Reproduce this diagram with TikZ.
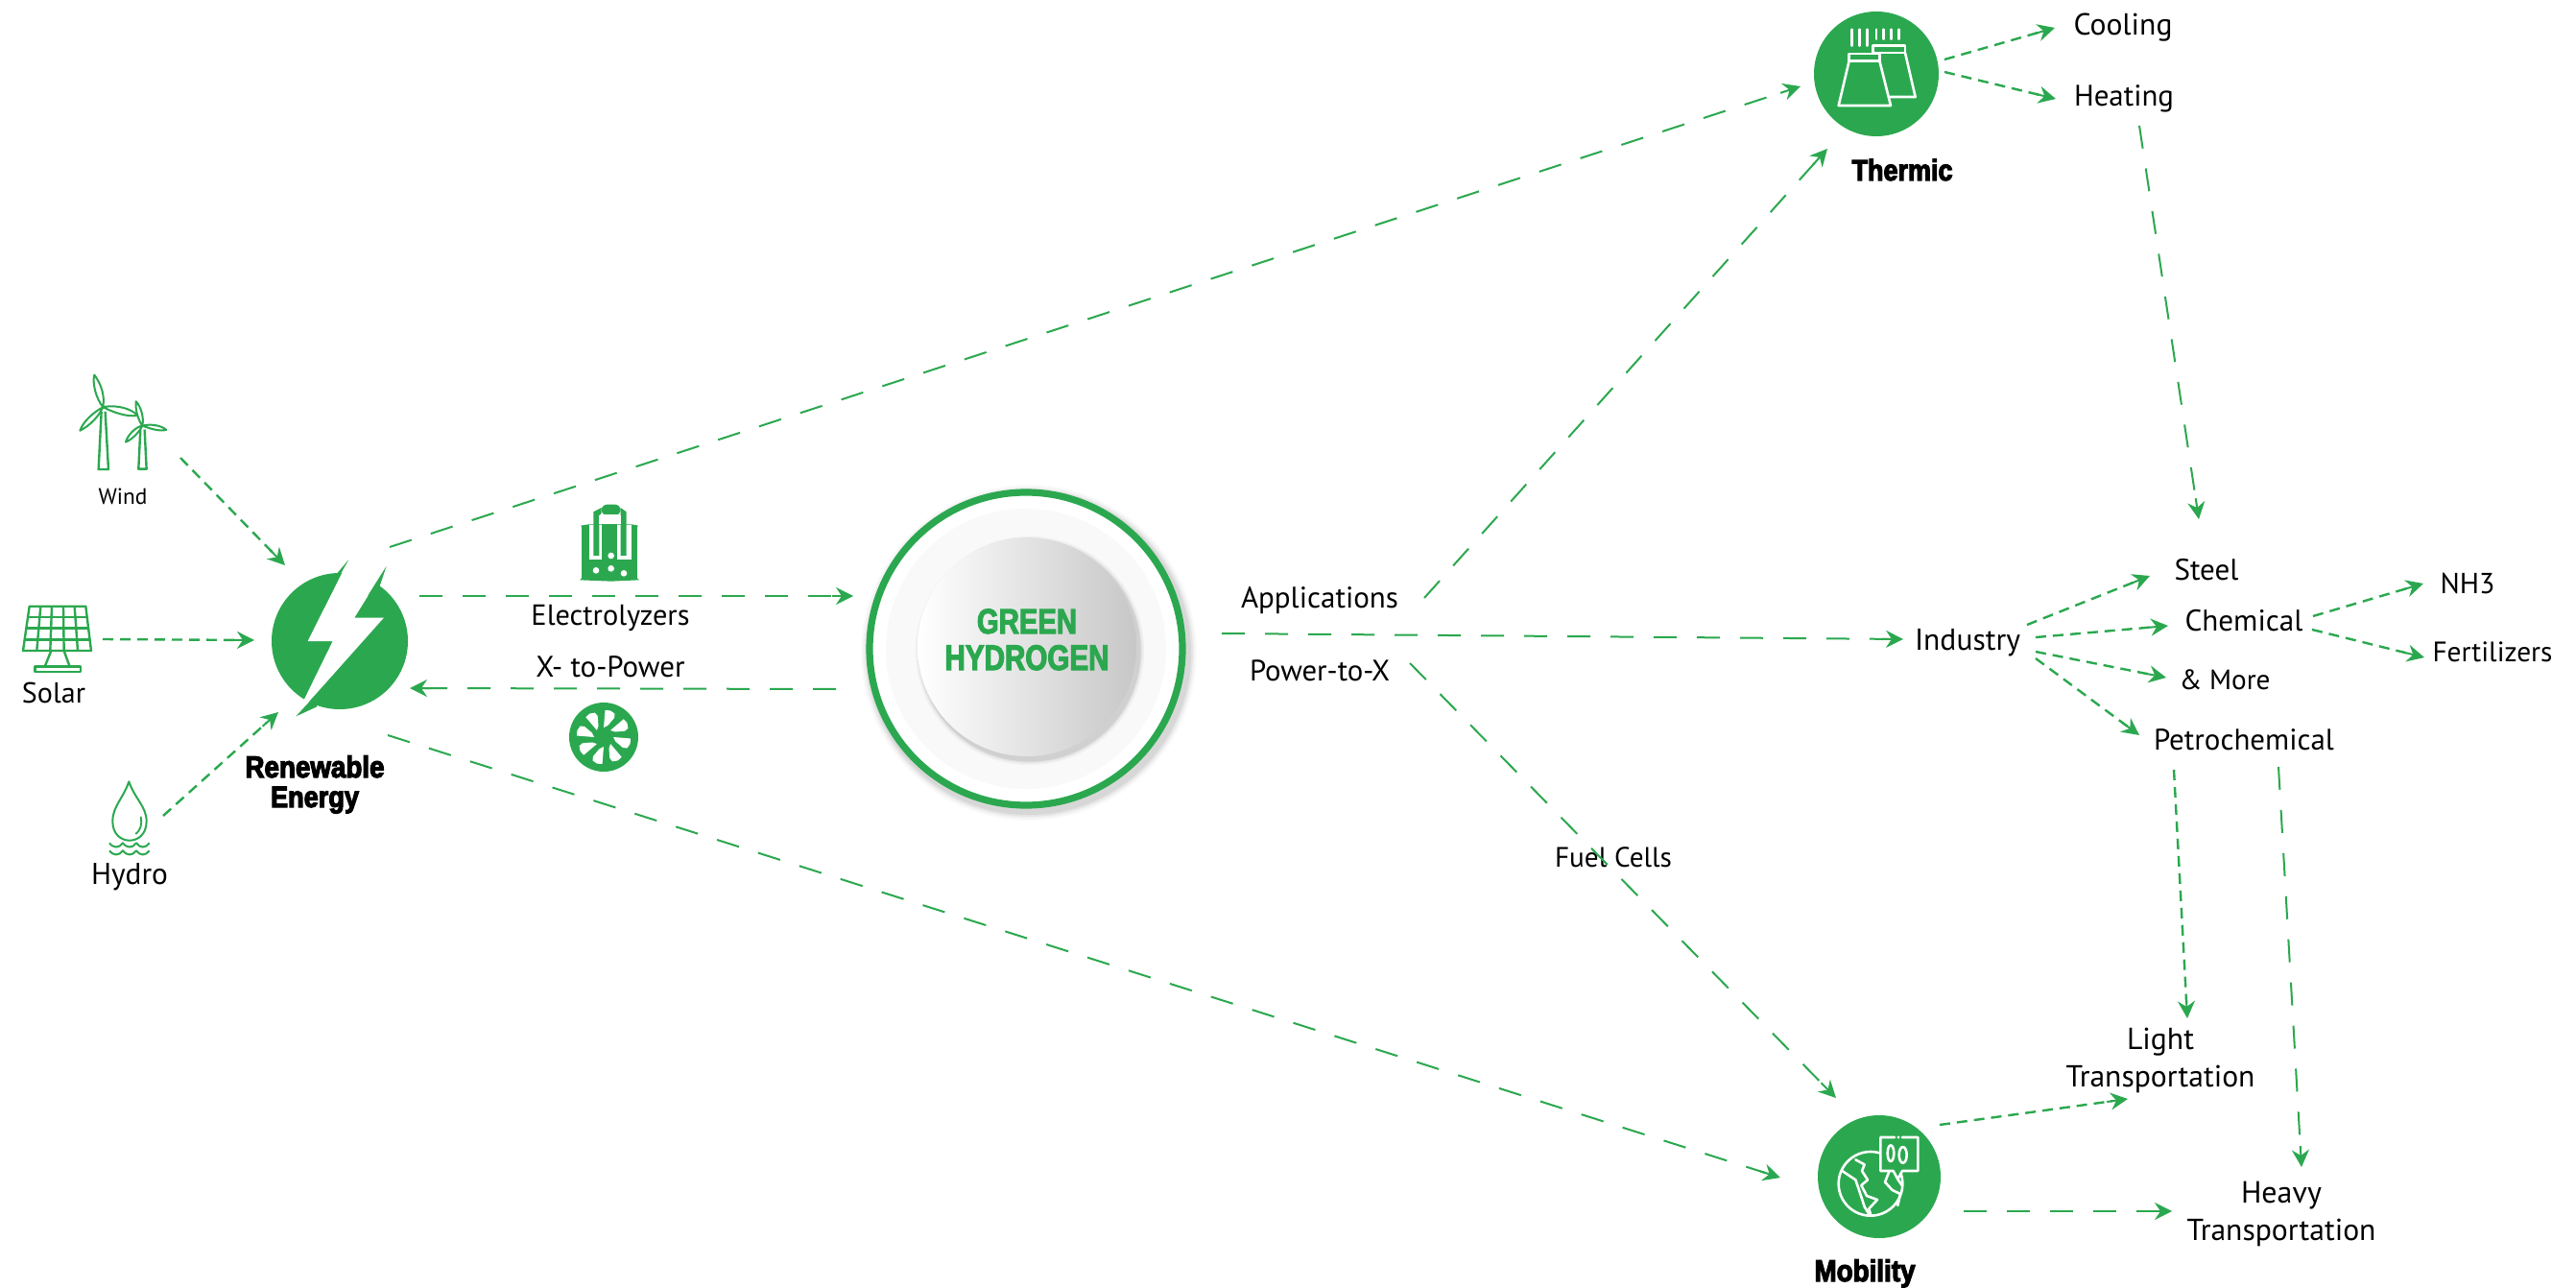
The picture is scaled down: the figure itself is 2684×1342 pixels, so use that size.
\documentclass[tikz,border=0pt]{standalone}
\usepackage{graphicx}
\usepackage{fontspec}
\usetikzlibrary{arrows.meta,calc}
\setmainfont{PT Sans}
\newfontfamily\impactfont[FakeStretch=0.88,FakeBold=3.6]{Liberation Sans Bold}
\newfontfamily\greenfont[FakeStretch=0.80,FakeBold=3]{Liberation Sans Bold}
\definecolor{hgreen}{HTML}{2BA84F}
\newcommand\fw[2]{\resizebox{\dimexpr #1pt/2\relax}{!}{#2}}
\newcommand\conn[3]{%
  \draw[#1] (#2) -- ($(#3)!8pt!(#2)$);
  \draw[stub] ($(#3)!11pt!(#2)$) -- (#3);}
\tikzset{
  x=0.5pt,y=-0.5pt,
  longline/.style={draw=hgreen,line width=1pt,dash pattern=on 12pt off 10.5pt},
  shortline/.style={draw=hgreen,line width=1.2pt,dash pattern=on 5.5pt off 3.5pt},
  stub/.style={draw=hgreen,line width=1pt,-{Stealth[length=9pt,width=9pt,inset=3pt]}},
  lab/.style={anchor=base,inner sep=0pt,text=black},
  hub/.style={circle,fill=hgreen,inner sep=0pt},
  icon/.style={draw=hgreen,line width=1.2pt,line join=round},
  wicon/.style={draw=white,line width=1.3pt,line join=round,line cap=round},
}
\begin{document}
\begin{tikzpicture}
\useasboundingbox[fill=white] (0,0) rectangle (2684,1342);

%% ---------- hubs
\node[hub,minimum size=71pt] (renew) at (354,668) {};
\node[hub,minimum size=65pt] (thermic) at (1955,77) {};
\node[hub,minimum size=64pt] (mobility) at (1958,1226) {};

%% ---------- green hydrogen disc
\foreach \r/\o in {175/.02,173/.03,171/.05,169/.06}
  \fill[black,opacity=\o] (1072,680) circle (\r);
\node[circle,draw=hgreen,line width=3.6pt,fill=white,minimum size=163pt,inner sep=0pt] (hydrogen) at (1069,676) {};
\fill[black!2.5] (1069,676) circle (146);
\foreach \r/\o in {119/.04,117/.05,115.5/.08}
  \fill[black,opacity=\o] (1073,678) circle (\r);
\shade[left color=white,middle color=white,right color=black!22] (1070,674) circle (114);
\node[lab,text=hgreen] (greenw) at (1070,660) {\fw{104}{\greenfont GREEN}};
\node[lab,text=hgreen] (hydrow) at (1070,698) {\fw{171}{\greenfont HYDROGEN}};

%% ---------- bolt (coordinates of a 3 x 2.53 magnified view)
\begin{scope}[shift={(0,340)},xscale=.3333,yscale=.3953]
  \fill[white] (1090,615) -- (962,830) -- (1040,830) -- (950,985) -- (925,1028)
    -- (1200,768) -- (1108,768) -- (1208,632) -- cycle;
  \fill[hgreen] (1055,650) -- (1090,615) -- (1040,690) -- cycle;
  \fill[hgreen] (1185,690) -- (1208,632) -- (1150,710) -- (1230,720) -- cycle;
  \fill[hgreen] (925,1028) -- (1000,960) -- (990,1003) -- cycle;
  %% wind
  \foreach \a/\b/\c/\d/\e/\f/\g/\h/\i/\j/\k/\l in {
    322/213/330/170/305/140/295/128/288/150/300/190,
    322/213/370/205/415/220/430/235/395/240/350/225,
    322/213/310/235/285/260/250/275/260/250/295/225,
    445/262/452/235/435/205/425/198/422/225/435/250,
    445/262/480/255/510/265/520/273/495/278/465/268,
    445/262/435/280/410/300/393/305/400/285/425/265}
    \draw[icon,line width=1pt] (\a,\b) .. controls (\c,\d) and (\e,\f) .. (\g,\h) .. controls (\i,\j) and (\k,\l) .. cycle;
  \draw[icon] (317,225) -- (308,377) -- (339,377) -- (329,225);
  \draw[icon] (439,272) -- (433,376) -- (458,376) -- (452,272);
  %% solar
  \draw[icon] (92,738) -- (268,738) -- (285,855) -- (72,855) -- cycle;
  \foreach \p/\q in {127/115,162/157,198/200,233/243} \draw[icon] (\p,738) -- (\q,855);
  \draw[icon] (87,767) -- (272,767) (82,796) -- (276,796) (77,826) -- (281,826);
  \draw[icon] (160,855) -- (140,897) (200,855) -- (218,897);
  \draw[icon] (110,897) rectangle (252,910);
  %% hydro
  \draw[icon,line width=1pt] (403,1200) .. controls (385,1245) and (352,1265) .. (352,1305)
    .. controls (352,1372) and (458,1372) .. (458,1305)
    .. controls (458,1265) and (421,1245) .. (403,1200) -- cycle;
  \draw[icon,line width=.9pt] (440,1292) .. controls (445,1315) and (438,1330) .. (424,1338);
  \foreach \w in {1362,1382}
    \draw[icon,line width=1pt] (342,\w) .. controls (355,\w+14) and (372,\w+14) .. (384,\w)
      .. controls (397,\w+14) and (414,\w+14) .. (426,\w)
      .. controls (438,\w+14) and (455,\w+14) .. (467,\w);
\end{scope}

%% ---------- electrolyzer icon
\begin{scope}[shift={(590,515)},scale=.3333]
  \fill[hgreen] (45,98) -- (70,94) -- (205,94) -- (225,98) -- (222,102) -- (222,262) -- (228,268) -- (140,272) -- (42,268) -- (48,262) -- (48,102) -- cycle;
  \fill[white] (72,96) -- (72,205) -- (112,205) -- (112,96) -- cycle;
  \fill[white] (160,96) -- (160,205) -- (205,205) -- (205,96) -- cycle;
  \fill[hgreen] (85,192) -- (85,55) -- (110,42) -- (110,60) -- (103,66) -- (103,192) -- cycle;
  \fill[hgreen] (188,192) -- (188,55) -- (170,42) -- (170,60) -- (170,66) -- (170,192) -- cycle;
  \fill[white] (103,66) rectangle (170,94);
  \fill[hgreen] (112,94) rectangle (160,120);
  \fill[hgreen,rounded corners=3pt] (110,32) rectangle (170,66);
  \fill[white] (116,62) rectangle (165,66);
  \foreach \u/\v in {140/192,93/238,140/232,180/247} \fill[white] (\u,\v) circle (10);
\end{scope}

%% ---------- fan icon
\node[hub,minimum size=36pt] (fan) at (629,768) {};
\begin{scope}[shift={(629,768)}]
  \foreach \t in {0,45,...,315}
    \fill[white] (\t:10) -- (\t+3:28) -- (\t+14:28.5) -- (\t+25:27) -- (\t+29:23) -- (\t+20:13) -- cycle;
  \fill[hgreen] (0,0) circle (6.5);
\end{scope}

%% ---------- thermic icon
\begin{scope}[shift={(1850,0)},scale=.3333]
  \draw[wicon] (325,143) -- (305,143) -- (305,165) -- (405,165) -- (405,143) -- cycle;
  \draw[wicon] (405,165) -- (437,303) -- (358,303);
  \draw[wicon] (230,168) rectangle (325,190);
  \draw[wicon] (230,190) -- (197,330) -- (360,330) -- (325,190);
  \foreach \s in {238,262,287} \draw[wicon] (\s,92) -- (\s,143);
  \foreach \s in {315,338,362,385} \draw[wicon] (\s,92) -- (\s,122);
\end{scope}

%% ---------- mobility icon
\begin{scope}[shift={(1900,1170)},scale=.3333]
  \draw[wicon] (147,190) circle (100);
  \fill[hgreen] (178,40) rectangle (300,155);
  \draw[wicon] (222,45) -- (178,45) -- (178,150) -- (218,150) -- (232,176) -- (246,150) -- (295,150) -- (295,45) -- (246,45);
  \fill[white] (234,45) circle (5);
  \draw[wicon] (210,95) ellipse (10 and 25);
  \draw[wicon] (248,100) ellipse (12 and 25);
  \draw[wicon] (100,115) -- (128,130) -- (120,150) -- (138,178) -- (118,195) -- (135,228) -- (168,240) -- (142,268) -- (148,290);
  \draw[wicon] (58,150) -- (100,178) -- (115,222) -- (128,262) -- (145,290);
  \draw[wicon] (205,152) -- (192,185) -- (215,210) -- (240,222) -- (232,258);
  \draw[wicon] (232,176) -- (245,195);
\end{scope}

%% ---------- labels
\node[lab] (wind) at (128,526) {\fw{51}{Wind}};
\node[lab] (solar) at (56,732) {\fw{66}{Solar}};
\node[lab] (hydro) at (135,921) {\fw{80}{Hydro}};
\node[lab] (renewA) at (328,810) {\fw{145}{\impactfont Renewable}};
\node[lab] (renewB) at (328,841) {\fw{92}{\impactfont Energy}};
\node[lab] (electro) at (636,651) {\fw{165}{Electrolyzers}};
\node[lab] (xpower) at (636,705) {\fw{155}{X- to-Power}};
\node[lab] (applic) at (1375,633) {\fw{164}{Applications}};
\node[lab] (ptox) at (1375,709) {\fw{146}{Power-to-X}};
\node[lab] (fuel) at (1681,903) {\fw{122}{Fuel Cells}};
\node[lab] (industry) at (2050,677) {\fw{110}{Industry}};
\node[lab] (steel) at (2299,604) {\fw{67}{Steel}};
\node[lab] (chemical) at (2338,657) {\fw{123}{Chemical}};
\node[lab] (more) at (2318,718) {\fw{95}{\& More}};
\node[lab] (petro) at (2338,781) {\fw{188}{Petrochemical}};
\node[lab] (nh) at (2571,618) {\fw{57}{NH3}};
\node[lab] (fert) at (2597,689) {\fw{125}{Fertilizers}};
\node[lab] (cooling) at (2212,37) {\fw{103}{Cooling}};
\node[lab] (heating) at (2213,111) {\fw{104}{Heating}};
\node[lab] (thermlab) at (1982,188) {\fw{105}{\impactfont Thermic}};
\node[lab] (lightA) at (2251,1093) {\fw{70}{Light}};
\node[lab] (lightB) at (2251,1132) {\fw{197}{Transportation}};
\node[lab] (heavyA) at (2377,1253) {\fw{84}{Heavy}};
\node[lab] (heavyB) at (2377,1292) {\fw{197}{Transportation}};
\node[lab] (moblab) at (1943,1335) {\fw{105}{\impactfont Mobility}};

%% ---------- connector ends
\foreach \n/\X/\Y in {
  windO/188/477, windI/297/589, solarO/107/666, solarI/265/667, hydroO/170/850, hydroI/290/742,
  reTh/406/570, thRe/1876/90, reH/437/621, hRe/889/621, hOut/871/718, hIn/427/717,
  reMo/404/766, moRe/1855/1227, hInd/1273/660, indH/1983/666,
  apO/1484/623, apI/1904/155, ptO/1469/691, ptI/1913/1144,
  thC/2026/62, coI/2141/29, thH/2026/75, heI/2142/103,
  heO/2229/131, stT/2291/541,
  inS/2112/651, stI/2240/600, inC/2121/664, chI/2259/652, inM/2121/679, moI/2257/706, inP/2121/686, peI/2229/766,
  chN/2410/642, nhI/2525/608, chF/2409/656, feI/2526/685,
  peL/2265/802, liI/2279/1061, peH/2374/799, hvI/2398/1216,
  moL/2021/1172, liM/2217/1145, moH/2046/1262, hvM/2263/1262}
  \coordinate (\n) at (\X,\Y);

%% ---------- connectors
\conn{shortline}{windO}{windI}
\conn{shortline}{solarO}{solarI}
\conn{shortline}{hydroO}{hydroI}
\conn{longline}{reTh}{thRe}
\conn{longline}{reH}{hRe}
\conn{longline}{hOut}{hIn}
\conn{longline}{reMo}{moRe}
\conn{longline}{hInd}{indH}
\conn{longline}{apO}{apI}
\conn{longline}{ptO}{ptI}
\conn{shortline}{thC}{coI}
\conn{shortline}{thH}{heI}
\conn{longline}{heO}{stT}
\conn{shortline}{inS}{stI}
\conn{shortline}{inC}{chI}
\conn{shortline}{inM}{moI}
\conn{shortline}{inP}{peI}
\conn{shortline}{chN}{nhI}
\conn{shortline}{chF}{feI}
\conn{shortline}{peL}{liI}
\conn{longline}{peH}{hvI}
\conn{shortline}{moL}{liM}
\conn{longline}{moH}{hvM}
\end{tikzpicture}
\end{document}
